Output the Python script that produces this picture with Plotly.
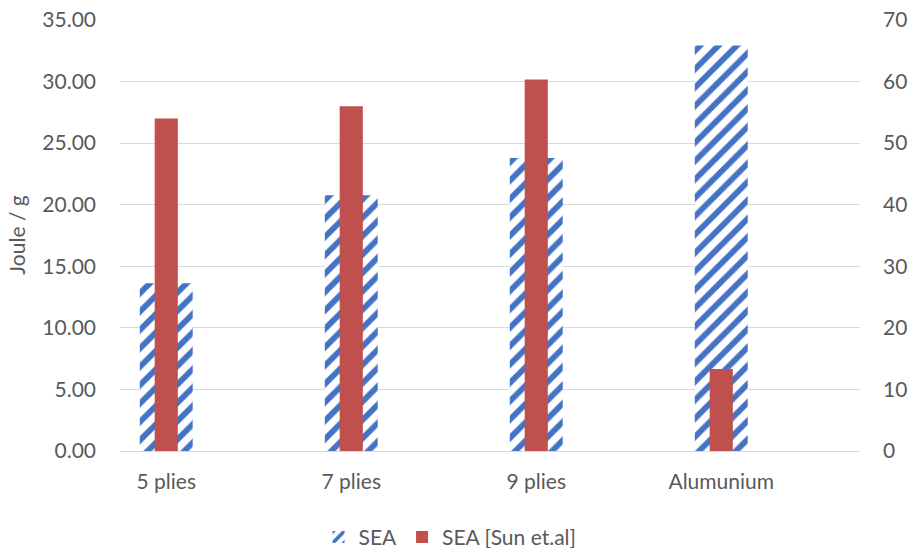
import plotly.graph_objects as go

categories = ["5 plies", "7 plies", "9 plies", "Alumunium"]
sea = [13.63, 20.76, 23.79, 32.93]
sea_sun = [54.0, 55.97, 60.35, 13.3]
left_ticks = [0, 5, 10, 15, 20, 25, 30, 35]
left_labels = ["0.00", "5.00", "10.00", "15.00", "20.00", "25.00", "30.00", "35.00"]
right_ticks = [0, 10, 20, 30, 40, 50, 60, 70]

FONT = "Lato"
TXT = "#595959"
GRID = "#D9D9D9"

fig = go.Figure()
fig.add_trace(go.Bar(
    x=categories, y=sea, name="SEA", width=0.286,
    marker=dict(color="#4472C4", line=dict(width=0),
                pattern=dict(shape="/", fgcolor="#4472C4", bgcolor="white",
                             fgopacity=1, size=13, solidity=0.45)),
    yaxis="y",
))
fig.add_trace(go.Bar(
    x=categories, y=sea_sun, name="SEA [Sun et.al]", width=0.125,
    marker=dict(color="#C0504D", line=dict(width=0)),
    yaxis="y2",
))

fig.update_layout(
    width=910, height=548,
    margin=dict(l=120, r=50, t=19, b=97, autoexpand=False),
    paper_bgcolor="white", plot_bgcolor="white",
    barmode="overlay",
    font=dict(family=FONT, size=21, color=TXT),
    xaxis=dict(type="category", range=[-0.25, 3.75], showgrid=False,
               showline=False, ticks="", zeroline=False, automargin=False,
               tickfont=dict(size=21, color=TXT), ticklabelstandoff=16),
    yaxis=dict(range=[0, 35.08], tickvals=left_ticks, ticktext=left_labels,
               showgrid=True, gridcolor=GRID, gridwidth=1, automargin=False,
               zeroline=True, zerolinecolor=GRID, zerolinewidth=1,
               showline=False, ticks="", ticklabelstandoff=23,
               tickfont=dict(size=21, color=TXT),
               title=dict(text="Joule / g", font=dict(size=21, color=TXT), standoff=10)),
    yaxis2=dict(range=[0, 70.16], tickvals=right_ticks, overlaying="y", side="right",
                showgrid=False, zeroline=False, showline=False, ticks="", automargin=False,
                ticklabelstandoff=22, tickfont=dict(size=21, color=TXT)),
    legend=dict(orientation="h", x=0.446, xanchor="center", y=-0.2, yanchor="middle",
                font=dict(size=21, color=TXT), itemwidth=30, traceorder="normal"),
)

fig.write_html(
    "out.html",
    config={"displayModeBar": False},
    post_script="document.body.style.margin='0';document.body.style.overflow='hidden';",
)
